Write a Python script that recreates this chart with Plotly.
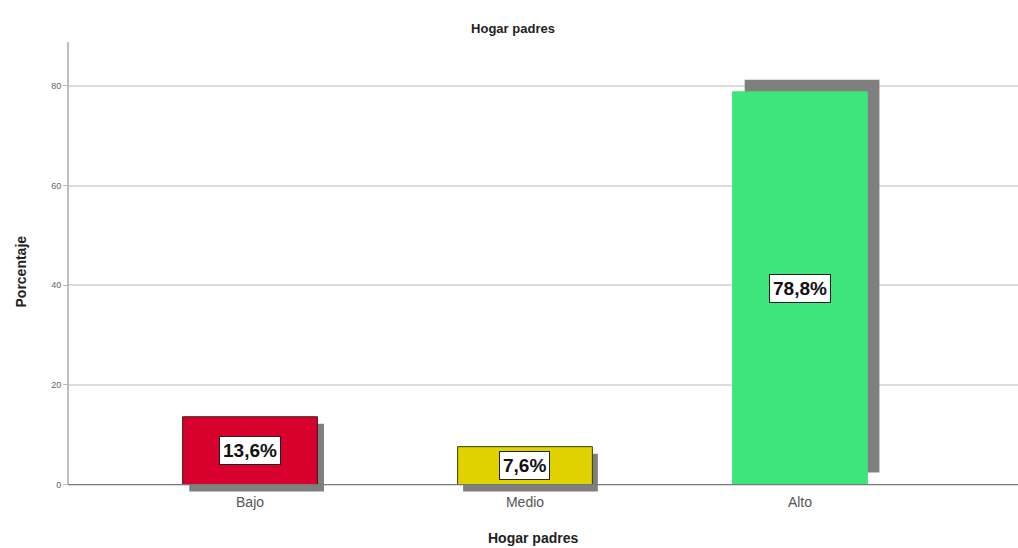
import plotly.graph_objects as go

categories = ["Bajo", "Medio", "Alto"]
percentages = [13.6, 7.6, 78.8]
labels = ["13,6%", "7,6%", "78,8%"]
y_ticks = [0, 20, 40, 60, 80]

bar_colors = ["#d8002c", "#e0d200", "#3de57a"]
bar_lines = ["#3a1a1a", "#3a3a10", "#3de57a"]
shadow_dx = [0.024, 0.02, 0.044]
shadow_dy = [-1.4, -1.4, 2.4]
bar_w = 0.49

fig = go.Figure()
fig.add_trace(go.Bar(
    x=categories, y=percentages, base=shadow_dy,
    width=bar_w, offset=[-bar_w / 2 + d for d in shadow_dx],
    marker=dict(color="#7f7f7f", line=dict(width=0)),
    hoverinfo="skip", showlegend=False))
fig.add_trace(go.Bar(
    x=categories, y=percentages,
    width=bar_w, offset=-bar_w / 2,
    marker=dict(color=bar_colors, line=dict(color=bar_lines, width=1)),
    showlegend=False))

for c, v, t in zip(categories, percentages, labels):
    fig.add_annotation(x=c, y=v / 2, text=f"<b>{t}</b>", showarrow=False,
                       font=dict(family="Liberation Sans, Arial", size=19, color="#111"),
                       bgcolor="white", bordercolor="#222", borderwidth=1, borderpad=3)

fig.add_shape(type="line", xref="paper", yref="y", x0=0, x1=0, y0=0, y1=88.8,
              line=dict(color="#a8a8a8", width=1.5))
fig.add_shape(type="line", xref="paper", yref="y", x0=0, x1=1, y0=0, y1=0,
              line=dict(color="#777", width=1.2))

fig.update_layout(
    width=1018, height=548,
    margin=dict(l=68, r=0, t=42, b=56, autoexpand=False),
    paper_bgcolor="white", plot_bgcolor="white",
    barmode="overlay",
    font=dict(family="Liberation Sans, Arial", color="#555"),
    title=dict(text="<b>Hogar padres</b>", x=513 / 1018, xanchor="center",
               y=1 - 28 / 548, yanchor="middle",
               font=dict(size=13, color="#222")),
    xaxis=dict(range=[-0.662, 2.793], showgrid=False, showline=False, zeroline=False,
               tickfont=dict(size=14, color="#555"), ticks="", ticklabelstandoff=0),
    yaxis=dict(range=[-1.5, 88.8], tickvals=y_ticks, showgrid=True, gridcolor="#dcdcdc",
               gridwidth=1.5, zeroline=False, showline=False,
               ticks="outside", ticklen=4, tickcolor="#bbb",
               tickfont=dict(size=9, color="#666")),
)
fig.add_annotation(xref="paper", yref="paper", x=(533 - 68) / 950, y=-46 / 450,
                   text="<b>Hogar padres</b>", showarrow=False,
                   font=dict(size=14, color="#222"), yanchor="middle")
fig.add_annotation(xref="paper", yref="paper", x=-48 / 950, y=0.49,
                   text="<b>Porcentaje</b>", showarrow=False, textangle=-90,
                   font=dict(size=14, color="#222"), xanchor="center", yanchor="middle")

fig.write_html("out.html", config={"displayModeBar": False},
               post_script="document.body.style.margin='0';")
